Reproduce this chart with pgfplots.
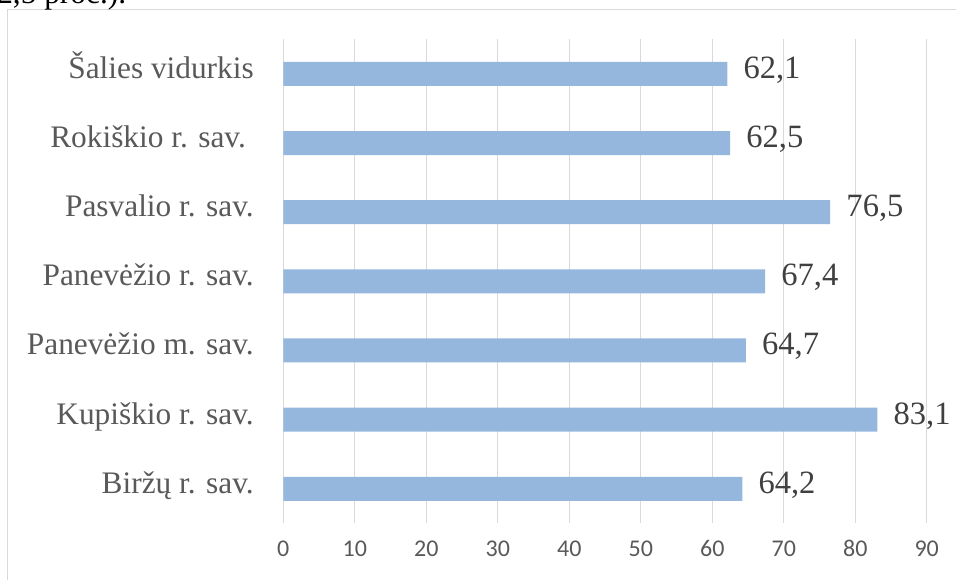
\documentclass[border=0pt]{standalone}
\usepackage{pgfplots}
\pgfplotsset{compat=1.18}
\usepackage{fontspec}
\setmainfont{Liberation Serif}
\newfontfamily\calibri{Carlito}
\definecolor{barblue}{RGB}{149,183,222}
\definecolor{gridgray}{RGB}{217,217,217}
\definecolor{catgray}{RGB}{89,89,89}
\definecolor{tickgray}{RGB}{89,89,89}
\definecolor{labgray}{RGB}{64,64,64}
\begin{document}
\begin{tikzpicture}
\path[use as bounding box] (-212.5pt,-42.5pt) rectangle (504.5pt,392.5pt);
\clip (-212.5pt,-42.5pt) rectangle (504.5pt,392.5pt);
\draw[color=gridgray, line width=1.1pt] (-206.85pt,-60pt) -- (-206.85pt,385.35pt) -- (520pt,385.35pt);
\node[anchor=base west, inner sep=0pt, font=\fontsize{23.5}{28}\selectfont] at (-214.7pt,390.2pt) {2,5 proc.).};
\begin{axis}[
  at={(0,0)}, anchor=south west,
  scale only axis, width=482.55pt, height=363pt,
  xbar, bar width=18pt,
  xmin=0, xmax=90, ymin=-0.5, ymax=6.5,
  xtick={0,10,...,90},
  ytick={0,1,2,3,4,5,6},
  yticklabels={Biržų r. sav., Kupiškio r. sav., Panevėžio m. sav., Panevėžio r. sav., Pasvalio r. sav., Rokiškio r. sav.\kern0.25em, Šalies vidurkis},
  xmajorgrids, ymajorgrids=false,
  grid style={color=gridgray, line width=0.9pt},
  axis line style={draw=none},
  major tick length=0pt, tick style={draw=none},
  /pgf/number format/assume math mode=true,
  xticklabel style={font=\calibri\fontsize{18}{20}\selectfont, text=tickgray, inner sep=0pt, text height=0.63em, text depth=0pt, anchor=north, yshift=-18.75pt},
  yticklabel style={font=\fontsize{23.5}{28}\selectfont, text=catgray, inner sep=0pt, text height=0.662em, text depth=0pt, anchor=east, xshift=-22pt},
  point meta=x,
  nodes near coords={\pgfmathprintnumber[fixed, fixed zerofill, precision=1, use comma, assume math mode=true]{\pgfplotspointmeta}},
  nodes near coords style={font=\fontsize{24.4}{28}\selectfont, text=labgray, anchor=west, inner sep=0pt, xshift=12pt, text height=0.676em, text depth=0pt},
  clip=false,
]
\addplot[fill=barblue, draw=none] coordinates {(64.2,0) (83.1,1) (64.7,2) (67.4,3) (76.5,4) (62.5,5) (62.1,6)};
\end{axis}
\end{tikzpicture}
\end{document}
